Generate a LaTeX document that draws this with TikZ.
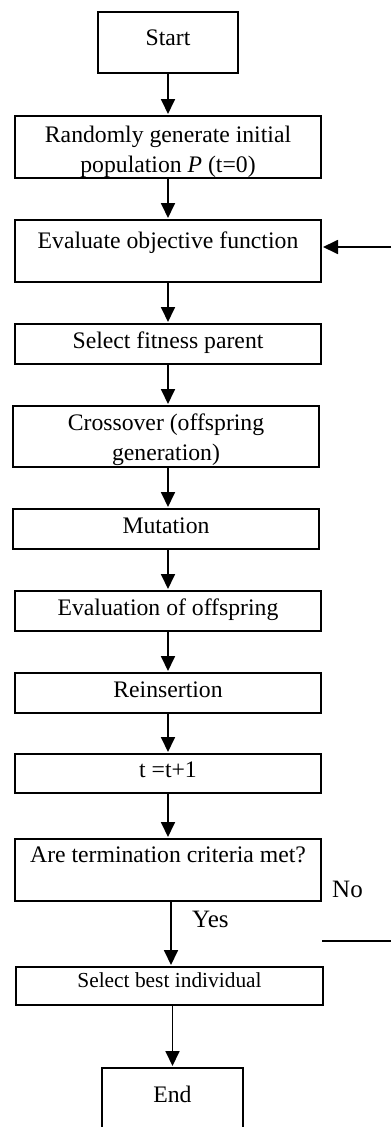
\documentclass[tikz,border=0pt]{standalone}
\usepackage{fontspec}
\setmainfont{Liberation Serif}
\usetikzlibrary{arrows.meta}
\newcommand\mfont{\fontsize{23.7}{30}\selectfont}
\newcommand\sfontx{\fontsize{21.4}{26}\selectfont}
\newcommand\lfont{\fontsize{25}{30}\selectfont}
\begin{document}
\begin{tikzpicture}[x=1pt,y=-1pt,
  box/.style={draw, line width=1.8pt, inner sep=0pt, outer sep=0pt, anchor=north west, font=\mfont},
  arr/.style={line width=1.8pt, -{Triangle[length=15pt,width=14pt]}, shorten >=2pt},
  ln/.style={line width=1.8pt},
  lab/.style={inner sep=0pt, anchor=base west, font=\lfont}]
\useasboundingbox (0,0) rectangle (391,1127);
\node[box, minimum width=140pt, text height=33pt, text depth=28pt] (start) at (98,12) {Start};
\node[box, minimum width=306pt, text height=26pt, text depth=36pt] (init) at (15,116)
  {\begin{tabular}[t]{@{}c@{}}Randomly generate initial\\ population \textit{P} (t=0)\end{tabular}};
\node[box, minimum width=306pt, text height=28pt, text depth=34pt] (eval) at (15,220) {Evaluate objective function};
\node[box, minimum width=306pt, text height=24pt, text depth=16pt] (select) at (15,324) {Select fitness parent};
\node[box, minimum width=306pt, text height=24pt, text depth=37pt] (cross) at (13,406)
  {\begin{tabular}[t]{@{}c@{}}Crossover (offspring\\ generation)\end{tabular}};
\node[box, minimum width=306pt, text height=24pt, text depth=16pt] (mut) at (13,509) {Mutation};
\node[box, minimum width=306pt, text height=24pt, text depth=16pt] (evoff) at (15,591) {Evaluation of offspring};
\node[box, minimum width=306pt, text height=24pt, text depth=16pt] (reins) at (15,673) {Reinsertion};
\node[box, minimum width=306pt, text height=23pt, text depth=16pt] (tinc) at (15,754) {t =t+1};
\node[box, minimum width=306pt, text height=23pt, text depth=39pt] (term) at (15,839) {Are termination criteria met?};
\node[box, minimum width=307pt, text height=20pt, text depth=18pt, font=\sfontx] (best) at (16,967) {Select best individual};
\node[box, minimum width=141pt, text height=34pt, text depth=27pt] (end) at (102,1068) {End};
\node[lab] (no) at (332,897) {No};
\node[lab] (yes) at (192,927) {Yes};
\coordinate (fbin) at (391,247);
\coordinate (noA) at (322,941);
\coordinate (noB) at (391,941);
\draw[arr] (start.south) -- (init.north);
\draw[arr] (init.south) -- (eval.north);
\draw[arr] (eval.south) -- (select.north);
\draw[arr] (select.south) -- (select.south |- cross.north);
\draw[arr] (cross.south -| select.south) -- (select.south |- mut.north);
\draw[arr] (evoff.north |- mut.south) -- (evoff.north);
\draw[arr] (evoff.south) -- (reins.north);
\draw[arr] (reins.south) -- (tinc.north);
\draw[arr] (tinc.south) -- (term.north);
\draw[arr] ([xshift=3pt]term.south) -- ([xshift=3pt]term.south |- best.north);
\draw[arr] (end.north |- best.south) -- (end.north);
\draw[arr] (fbin) -- (fbin -| eval.east);
\draw[ln] (noA) -- (noB);
\end{tikzpicture}
\end{document}
